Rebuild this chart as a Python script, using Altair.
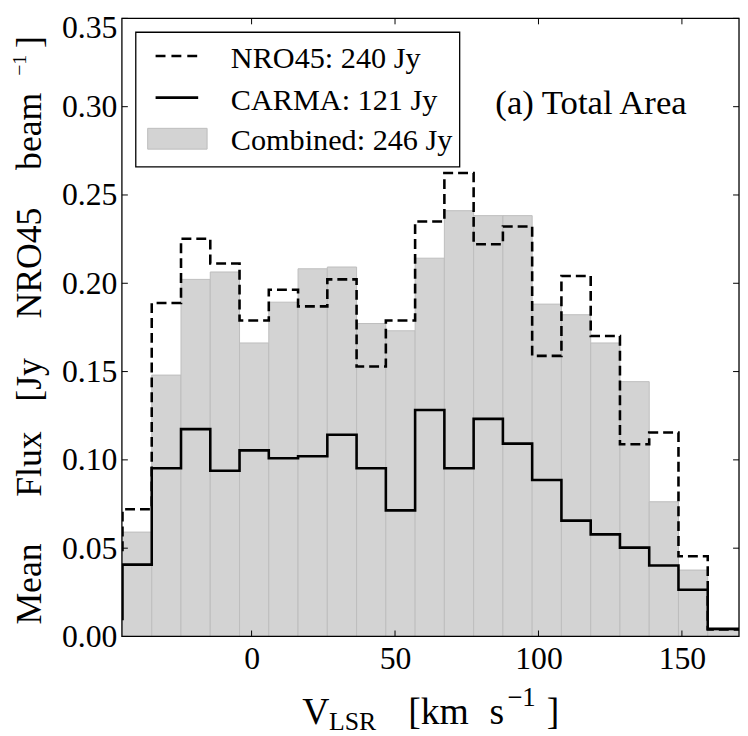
import altair as alt
import pandas as pd

# ---- data ----
bin_edges = [-45.0, -34.8, -24.6, -14.4, -4.2, 6.0, 16.2, 26.4, 36.6, 46.8, 57.0,
             67.2, 77.4, 87.6, 97.8, 108.0, 118.2, 128.4, 138.6, 148.8, 159.0, 169.2]
edge_before = -55.2
edge_after = 179.4

combined = [0.0591, 0.148, 0.2022, 0.2064, 0.1662, 0.1893, 0.2082, 0.2092, 0.1772, 0.1731,
            0.2142, 0.2411, 0.2383, 0.2383, 0.1882, 0.1822, 0.1662, 0.1443, 0.0763, 0.0376, 0.0035]
nro45 = [0.072, 0.1888, 0.2252, 0.2112, 0.1789, 0.1963, 0.1869, 0.2022, 0.1529, 0.1789,
         0.2350, 0.2624, 0.2221, 0.2322, 0.1589, 0.2041, 0.1701, 0.1088, 0.1155, 0.0454, 0.004]
carma = [0.0407, 0.0953, 0.1174, 0.0938, 0.1054, 0.1009, 0.1021, 0.1142, 0.0953, 0.0714,
         0.1282, 0.0953, 0.1232, 0.1092, 0.0886, 0.0656, 0.0578, 0.0503, 0.0402, 0.0265, 0.0043]
nro45_before = 0.048
carma_before = 0.0099

x_ticks = [0, 50, 100, 150]
y_ticks = [0.0, 0.05, 0.10, 0.15, 0.20, 0.25, 0.30, 0.35]
x_domain = [-45.2, 169.9]
y_domain = [0.0, 0.35]

legend_labels = ["NRO45: 240 Jy", "CARMA: 121 Jy", "Combined: 246 Jy"]
panel_label = "(a) Total Area"

FONT = "Liberation Serif"
W, H = 623, 624

# ---- tables ----
n = len(combined)
bars = pd.DataFrame({
    "x0": bin_edges[:n],
    "x1": bin_edges[1:n] + [edge_after],
    "v": combined,
    "base": [0.0] * n,
})
line_x = [edge_before] + bin_edges[:n] + [edge_after]
lines_nro = pd.DataFrame({"x": line_x, "v": [nro45_before] + nro45 + [nro45[-1]]})
lines_carma = pd.DataFrame({"x": line_x, "v": [carma_before] + carma + [carma[-1]]})

xs = alt.Scale(domain=x_domain, nice=False, zero=False)
ys = alt.Scale(domain=y_domain, nice=False, zero=False)
xax = alt.Axis(values=x_ticks, title=None, labelPadding=7, labelBaseline="top")
yax = alt.Axis(values=y_ticks, format=".2f", title=None, labelPadding=5,
               labelBaseline="middle", labelAlign="right",
               labelOffset={"condition": {"test": "datum.value > 0.34", "value": 9},
                            "value": 0})


def X(f):
    return alt.X(f, scale=xs, axis=xax)


def Y(f):
    return alt.Y(f, scale=ys, axis=yax)


bar_layer = alt.Chart(bars).mark_rect(
    fill="#d3d3d3", stroke="#bdbdbd", strokeWidth=1, clip=True
).encode(x=X("x0:Q"), x2="x1:Q", y=Y("v:Q"), y2="base:Q")

nro_layer = alt.Chart(lines_nro).mark_line(
    interpolate="step-after", color="black", strokeWidth=2.6, strokeDash=[10, 5], clip=True
).encode(x=X("x:Q"), y=Y("v:Q"))

carma_layer = alt.Chart(lines_carma).mark_line(
    interpolate="step-after", color="black", strokeWidth=2.6, clip=True
).encode(x=X("x:Q"), y=Y("v:Q"))

# inward ticks on all four sides
xt = pd.DataFrame({"t": x_ticks})
yt = pd.DataFrame({"t": y_ticks})
TL = 6
tick_layers = [
    alt.Chart(yt).mark_rule(color="black", strokeWidth=1).encode(
        y=Y("t:Q"), x=alt.value(0), x2=alt.value(TL)),
    alt.Chart(yt).mark_rule(color="black", strokeWidth=1).encode(
        y=Y("t:Q"), x=alt.value(W - TL), x2=alt.value(W)),
    alt.Chart(xt).mark_rule(color="black", strokeWidth=1).encode(
        x=X("t:Q"), y=alt.value(H - TL), y2=alt.value(H)),
    alt.Chart(xt).mark_rule(color="black", strokeWidth=1).encode(
        x=X("t:Q"), y=alt.value(0), y2=alt.value(TL)),
]

one = pd.DataFrame({"a": [0]})


def txt(s, x, y, size, angle=0):
    kw = dict(text=s, font=FONT, fontSize=size, align="left", baseline="alphabetic",
              color="black")
    if angle:
        kw["angle"] = angle
    return alt.Chart(one).mark_text(**kw).encode(x=alt.value(x), y=alt.value(y))


def box(x1, x2, y1, y2, **style):
    return alt.Chart(one).mark_rect(**style).encode(
        x=alt.value(x1), x2=alt.value(x2), y=alt.value(y1), y2=alt.value(y2))


def hline(x1, x2, y, **style):
    return alt.Chart(one).mark_rule(**style).encode(
        x=alt.value(x1), x2=alt.value(x2), y=alt.value(y))


frame = box(0, W, 0, H, fillOpacity=0, stroke="black", strokeWidth=1.3)

legend_layers = [
    box(14, 341, 14, 150, fill="white", stroke="black", strokeWidth=1.3),
    hline(34, 77, 38, color="black", strokeWidth=2.6, strokeDash=[10, 6]),
    hline(34, 77, 80, color="black", strokeWidth=2.6),
    box(26, 86, 111, 132, fill="#d3d3d3", stroke="#bdbdbd", strokeWidth=1),
    txt(legend_labels[0], 110, 50, 30.5),
    txt(legend_labels[1], 110, 92, 30.5),
    txt(legend_labels[2], 110, 133, 30.5),
]

annot = txt(panel_label, 377, 97, 35)

# axis titles with sub/superscripts
xtitle = [
    txt("V", 182, 712, 38),
    txt("LSR", 209, 718, 26),
    txt("[km", 289, 712, 38),
    txt("s", 371, 712, 38),
    txt("\u22121", 389, 694, 27),
    txt("]", 429, 712, 38),
]
YB = -82   # baseline of the rotated y title (view coords)
ytitle = [
    txt("Mean", YB, 612, 36, 270),
    txt("Flux", YB, 483, 36, 270),
    txt("[Jy", YB, 387, 36, 270),
    txt("NRO45", YB, 303, 36, 270),
    txt("beam", YB, 153, 36, 270),
    txt("\u22121", -97, 58, 20, 270),
    txt("]", YB, 30, 36, 270),
]

chart = alt.layer(
    bar_layer, nro_layer, carma_layer, *tick_layers, frame, *legend_layers, annot,
    *xtitle, *ytitle
).properties(
    width=W, height=H,
    autosize=alt.AutoSizeParams(type="none"),
    padding={"left": 115, "top": 7, "right": 1, "bottom": 97},
).configure_view(
    stroke=None
).configure_axis(
    labelFont=FONT, labelFontSize=32, labelColor="black", domain=False, ticks=False,
    grid=False
)

chart.save("out.html", embed_options={"renderer": "svg", "actions": False})
